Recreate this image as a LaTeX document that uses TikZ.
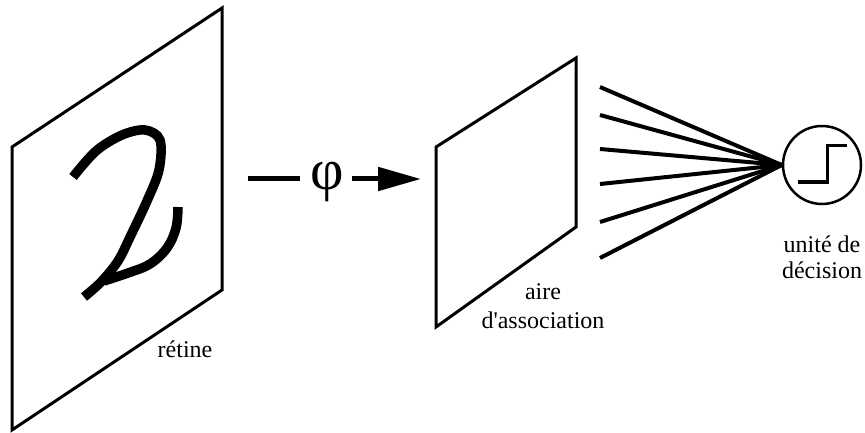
\documentclass[tikz,border=0pt]{standalone}
\usepackage{fontspec}
\setmainfont{Liberation Serif}
\usetikzlibrary{arrows.meta}
\begin{document}
\begin{tikzpicture}[x=1pt,y=-1pt,
  panel/.style={line width=3pt, line join=miter},
  lbl/.style={font=\fontsize{24}{28}\selectfont, align=center, inner sep=0pt},
  fan/.style={line width=4pt},
  bar/.style={line width=5pt},
  glyph/.style={line width=9.5pt, line cap=butt, line join=round},
  unit/.style={circle, draw, line width=2.5pt, minimum size=78pt, inner sep=0pt},
  stepfn/.style={line width=3pt, line join=miter}
]
\useasboundingbox (0,0) rectangle (865,433);
% retine
\draw[panel] (12,147) -- (222,8) -- (222,290) -- (12,430) -- cycle;
\node[lbl, anchor=base] (retine) at (185,357) {rétine};
% the handwritten 2
\draw[glyph] plot[smooth, tension=0.55] coordinates {(73,177) (96,151) (122,135) (145,130) (160,140) (159,170) (147,201) (131,235) (118,261) (101,282) (84,297)};
\draw[glyph] plot[smooth, tension=0.6] coordinates {(104,281) (128,273) (150,264) (167,248) (176,228) (178,207)};
% phi mapping
\node[font=\fontsize{58}{60}\selectfont, inner sep=0pt] (phi) at (327,182) {φ};
\coordinate (b1s) at (248,179);
\coordinate (b1e) at (300,179);
\coordinate (b2s) at (352,179);
\coordinate (b2e) at (421,179);
\draw[bar] (b1s) -- (b1e);
\draw[bar, -{Triangle[length=43pt,width=23pt]}] (b2s) -- (b2e);
% association
\draw[panel] (436,147) -- (576,58) -- (576,227) -- (436,327) -- cycle;
\node[lbl, anchor=base] (assoc) at (543,328) {aire\\[1pt]d\textquotesingle association};
% decision unit
\node[unit] (dec) at (822,165) {};
\draw[stepfn] (798,182) -- (827,182) -- (827,146) -- (847,146);
\node[lbl, anchor=base] (declbl) at (822,278) {unité de\\[-2pt]décision};
\foreach \y [count=\i] in {87,115,149,184,222,258} {
  \coordinate (f\i) at (600,\y);
  \draw[fan] (f\i) -- (dec.west);
}
\end{tikzpicture}
\end{document}
